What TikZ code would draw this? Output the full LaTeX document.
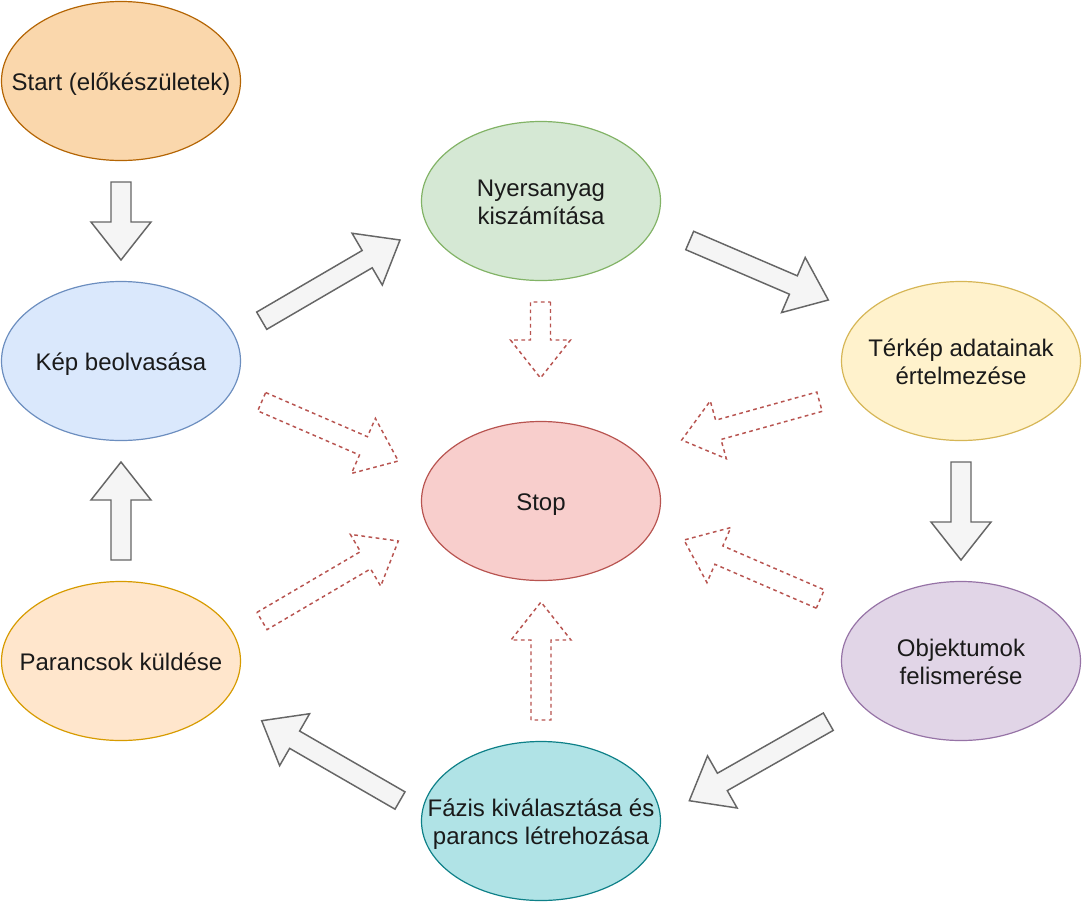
\documentclass[tikz,border=0pt]{standalone}
\usepackage{fontspec}
\setmainfont{Liberation Sans}
\usetikzlibrary{shapes.geometric,calc}
\definecolor{arrfill}{HTML}{F5F5F5}
\definecolor{arrdraw}{HTML}{666666}
\definecolor{redline}{HTML}{B85450}
\definecolor{txt}{HTML}{1A1A1A}
\newcommand\arrSW{7.5pt}
\newcommand\arrHW{22.5pt}
\newcommand\arrHL{28.5pt}
\newcommand\blockarr[3][]{%
  \coordinate (hb) at ($(#3)!\arrHL!(#2)$);
  \draw[#1] ($(#2)!\arrSW!90:(#3)$) -- ($(hb)!\arrSW!90:(#3)$) -- ($(hb)!\arrHW!90:(#3)$)
    -- (#3) -- ($(hb)!\arrHW!-90:(#3)$) -- ($(hb)!\arrSW!-90:(#3)$) -- ($(#2)!\arrSW!-90:(#3)$) -- cycle;}
\newcommand\ovaltext[1]{\makebox[0pt]{\raisebox{-2.8pt}[\height][\depth]{\begin{tabular}{@{}c@{}}#1\end{tabular}}}}
\tikzset{
  oval/.style={ellipse, minimum width=179.25pt, minimum height=119.25pt, inner sep=0pt,
    line width=0.9pt, text=txt, font=\fontsize{18}{21.6}\selectfont},
  grayarr/.style={fill=arrfill, draw=arrdraw, line width=1.1pt, line join=miter},
  dasharr/.style={fill=white, draw=redline, line width=1.1pt, dash pattern=on 2.8pt off 2.6pt}
}
\begin{document}
\begin{tikzpicture}[x=0.75pt, y=-0.75pt]
\useasboundingbox (0,0) rectangle (1082,904);
% ellipses
\node[oval, fill={rgb,255:red,250;green,215;blue,172}, draw={rgb,255:red,180;green,101;blue,4}] (start) at (121,81) {\ovaltext{Start (előkészületek)}};
\node[oval, fill={rgb,255:red,218;green,232;blue,252}, draw={rgb,255:red,108;green,142;blue,191}] (kep) at (121,361) {\ovaltext{Kép beolvasása}};
\node[oval, fill={rgb,255:red,255;green,230;blue,204}, draw={rgb,255:red,215;green,155;blue,0}] (parancs) at (121,661) {\ovaltext{Parancsok küldése}};
\node[oval, fill={rgb,255:red,213;green,232;blue,212}, draw={rgb,255:red,130;green,179;blue,102}] (nyers) at (541,201) {\ovaltext{Nyersanyag\\kiszámítása}};
\node[oval, fill={rgb,255:red,248;green,206;blue,204}, draw={rgb,255:red,184;green,84;blue,80}] (stop) at (541,501) {\ovaltext{Stop}};
\node[oval, fill={rgb,255:red,176;green,227;blue,230}, draw={rgb,255:red,14;green,128;blue,136}] (fazis) at (541,821) {\ovaltext{Fázis kiválasztása és\\parancs létrehozása}};
\node[oval, fill={rgb,255:red,255;green,242;blue,204}, draw={rgb,255:red,214;green,182;blue,86}] (terkep) at (961,361) {\ovaltext{Térkép adatainak\\értelmezése}};
\node[oval, fill={rgb,255:red,225;green,213;blue,231}, draw={rgb,255:red,150;green,115;blue,166}] (obj) at (961,661) {\ovaltext{Objektumok\\felismerése}};
% arrow end points
\coordinate (g1a) at (121,182); \coordinate (g1b) at (121,260);
\coordinate (g2a) at (261.7,320.7); \coordinate (g2b) at (400,240);
\coordinate (g3a) at (689.7,240.5); \coordinate (g3b) at (828.3,300);
\coordinate (g4a) at (961,462); \coordinate (g4b) at (961,560);
\coordinate (g5a) at (828.3,721.7); \coordinate (g5b) at (689.3,800.7);
\coordinate (g6a) at (400,800.5); \coordinate (g6b) at (261.7,720.7);
\coordinate (g7a) at (121,560); \coordinate (g7b) at (121,462);
\coordinate (d1a) at (261.7,401.7); \coordinate (d1b) at (398.3,461);
\coordinate (d2a) at (540.5,302); \coordinate (d2b) at (540.5,378);
\coordinate (d3a) at (819.5,401.7); \coordinate (d3b) at (681.7,440);
\coordinate (d4a) at (820.3,599); \coordinate (d4b) at (684,540);
\coordinate (d5a) at (541,720); \coordinate (d5b) at (541,602);
\coordinate (d6a) at (262,621); \coordinate (d6b) at (398.3,541);
% gray block arrows
\blockarr[grayarr]{g1a}{g1b}
\blockarr[grayarr]{g2a}{g2b}
\blockarr[grayarr]{g3a}{g3b}
\blockarr[grayarr]{g4a}{g4b}
\blockarr[grayarr]{g5a}{g5b}
\blockarr[grayarr]{g6a}{g6b}
\blockarr[grayarr]{g7a}{g7b}
% dashed arrows to stop
\blockarr[dasharr]{d1a}{d1b}
\blockarr[dasharr]{d2a}{d2b}
\blockarr[dasharr]{d3a}{d3b}
\blockarr[dasharr]{d4a}{d4b}
\blockarr[dasharr]{d5a}{d5b}
\blockarr[dasharr]{d6a}{d6b}
\end{tikzpicture}
\end{document}
